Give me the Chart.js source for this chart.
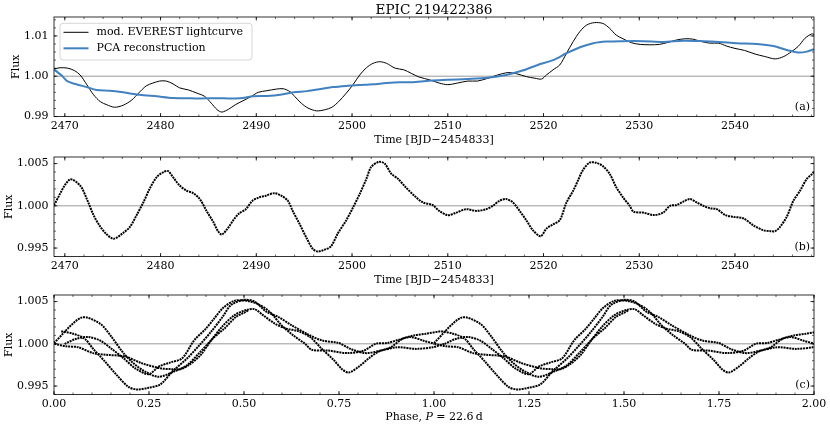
<!DOCTYPE html>
<html>
<head>
<meta charset="utf-8">
<script src="https://cdn.jsdelivr.net/npm/chart.js@4.4.1/dist/chart.umd.min.js"></script>
<style>
html, body { margin: 0; padding: 0; background: #fff; width: 830px; height: 428px; overflow: hidden; }
canvas { position: absolute; left: 0; }
</style>
</head>
<body>
<canvas id="panelA" width="830" height="150" style="top:0px"></canvas>
<canvas id="panelB" width="830" height="150" style="top:139.5px"></canvas>
<canvas id="panelC" width="830" height="150" style="top:278px"></canvas>
<script>
// mod. EVEREST lightcurve (panel a, black)
const timeLc = [2468.87, 2469.5, 2470.3, 2471.0, 2471.6, 2472.3, 2473.0, 2473.7, 2474.4, 2475.2,
    2476.1, 2477.0, 2477.7, 2478.5, 2479.2, 2479.9, 2480.6, 2481.3, 2482.0, 2482.9,
    2483.8, 2484.6, 2485.3, 2485.9, 2486.4, 2487.1, 2487.8, 2488.6, 2489.5, 2490.2,
    2491.1, 2492.1, 2492.8, 2493.5, 2494.0, 2494.7, 2495.4, 2496.3, 2497.2, 2497.9,
    2498.6, 2499.4, 2500.1, 2500.8, 2501.5, 2502.2, 2502.9, 2503.6, 2504.5, 2505.4,
    2506.2, 2507.0, 2508.1, 2509.1, 2510.0, 2511.0, 2512.1, 2513.1, 2514.2, 2515.2,
    2516.3, 2517.2, 2518.2, 2519.1, 2519.8, 2520.3, 2521.0, 2521.7, 2522.4, 2523.1,
    2523.8, 2524.5, 2525.3, 2526.2, 2526.9, 2527.6, 2528.3, 2529.2, 2530.1, 2531.1,
    2532.1, 2533.0, 2533.9, 2534.8, 2535.6, 2536.5, 2537.4, 2538.3, 2539.1, 2540.0,
    2541.0, 2542.1, 2543.1, 2544.2, 2545.1, 2545.9, 2546.6, 2547.3, 2548.0, 2548.25];
const fluxLc = [1.0018, 1.0021, 1.0020, 1.0014, 1.0003, 0.9979, 0.9954, 0.9937, 0.9929, 0.9923,
    0.9928, 0.9941, 0.9958, 0.9976, 0.9983, 0.9988, 0.9988, 0.9981, 0.9971, 0.9966,
    0.9958, 0.9950, 0.9933, 0.9917, 0.9911, 0.9918, 0.9929, 0.9939, 0.9950, 0.9960,
    0.9964, 0.9968, 0.9969, 0.9962, 0.9950, 0.9933, 0.9921, 0.9914, 0.9917, 0.9923,
    0.9937, 0.9958, 0.9979, 1.0003, 1.0021, 1.0032, 1.0036, 1.0032, 1.0020, 1.0016,
    1.0007, 0.9998, 0.9991, 0.9983, 0.9979, 0.9983, 0.9988, 0.9988, 0.9995, 1.0003,
    1.0009, 1.0006, 0.9999, 0.9995, 0.9993, 1.0003, 1.0016, 1.0028, 1.0057, 1.0086,
    1.0111, 1.0127, 1.0133, 1.0131, 1.0119, 1.0102, 1.0093, 1.0083, 1.0079, 1.0078,
    1.0079, 1.0084, 1.0090, 1.0093, 1.0092, 1.0086, 1.0082, 1.0082, 1.0075, 1.0069,
    1.0064, 1.0055, 1.0049, 1.0043, 1.0049, 1.0061, 1.0074, 1.0094, 1.0105, 1.0104];

// PCA reconstruction (panel a, blue)
const timePca = [2468.87, 2469.7, 2470.3, 2471.2, 2472.3, 2473.3, 2474.7, 2476.1, 2477.8, 2479.6,
    2481.3, 2483.1, 2484.8, 2486.6, 2488.3, 2489.7, 2491.1, 2492.5, 2493.9, 2495.3,
    2496.7, 2498.0, 2499.4, 2500.8, 2502.2, 2503.6, 2505.0, 2506.2, 2508.1, 2510.0,
    2512.1, 2514.2, 2516.1, 2517.8, 2519.4, 2521.0, 2522.4, 2523.8, 2525.2, 2526.6,
    2528.3, 2530.4, 2532.5, 2534.6, 2536.7, 2538.4, 2540.2, 2542.3, 2544.0, 2545.4,
    2546.6, 2547.5, 2548.25];
const fluxPca = [1.0017, 1.0001, 0.9987, 0.9980, 0.9973, 0.9966, 0.9964, 0.9960, 0.9954, 0.9950,
    0.9946, 0.9945, 0.9945, 0.9945, 0.9945, 0.9950, 0.9951, 0.9954, 0.9960, 0.9963,
    0.9968, 0.9973, 0.9976, 0.9978, 0.9980, 0.9983, 0.9985, 0.9985, 0.9989, 0.9991,
    0.9993, 0.9996, 1.0003, 1.0014, 1.0028, 1.0040, 1.0057, 1.0072, 1.0082, 1.0086,
    1.0087, 1.0087, 1.0085, 1.0088, 1.0087, 1.0085, 1.0082, 1.0080, 1.0075, 1.0065,
    1.0059, 1.0061, 1.0067];

// corrected lightcurve (panel b, folded in panel c)
const timeDet = [2468.87, 2470.5, 2471.6, 2472.3, 2473.0, 2473.6, 2474.3, 2475.1, 2476.1, 2476.8,
    2477.5, 2478.2, 2478.9, 2479.6, 2480.3, 2480.8, 2481.3, 2482.0, 2482.7, 2483.4,
    2484.1, 2484.8, 2485.5, 2486.0, 2486.4, 2487.0, 2487.6, 2488.2, 2488.9, 2489.6,
    2490.3, 2491.0, 2491.9, 2492.6, 2493.3, 2493.8, 2494.5, 2495.2, 2495.9, 2496.4,
    2497.1, 2497.8, 2498.5, 2499.4, 2500.1, 2500.8, 2501.5, 2502.0, 2502.8, 2503.4,
    2504.1, 2504.8, 2505.6, 2506.6, 2507.4, 2508.4, 2509.1, 2510.0, 2510.9, 2511.9,
    2513.0, 2514.0, 2514.7, 2515.4, 2516.1, 2516.8, 2517.5, 2518.2, 2518.9, 2519.7,
    2520.3, 2521.0, 2521.7, 2522.4, 2523.1, 2523.6, 2524.1, 2524.8, 2525.5, 2526.2,
    2526.9, 2527.6, 2528.3, 2529.0, 2529.4, 2530.4, 2531.5, 2532.5, 2533.2, 2533.9,
    2534.6, 2535.3, 2536.0, 2536.7, 2537.4, 2538.1, 2539.0, 2539.8, 2540.9, 2541.9,
    2543.0, 2543.7, 2544.2, 2544.7, 2545.4, 2546.1, 2546.8, 2547.5, 2548.0, 2548.25];
const fluxDet = [1.0001, 1.0031, 1.0024, 1.0008, 0.9989, 0.9977, 0.9967, 0.9961, 0.9968, 0.9975,
    0.9989, 1.0004, 1.0021, 1.0034, 1.0040, 1.0041, 1.0034, 1.0024, 1.0018, 1.0015,
    1.0008, 0.9994, 0.9981, 0.9970, 0.9966, 0.9973, 0.9983, 0.9991, 0.9996, 1.0006,
    1.0010, 1.0012, 1.0015, 1.0012, 1.0006, 0.9994, 0.9979, 0.9963, 0.9949, 0.9946,
    0.9948, 0.9952, 0.9967, 0.9983, 0.9998, 1.0014, 1.0032, 1.0046, 1.0052, 1.0050,
    1.0038, 1.0032, 1.0022, 1.0011, 1.0004, 1.0001, 0.9994, 0.9989, 0.9992, 0.9996,
    0.9994, 0.9996, 1.0000, 1.0006, 1.0008, 1.0004, 0.9994, 0.9983, 0.9971, 0.9964,
    0.9973, 0.9978, 0.9983, 1.0004, 1.0018, 1.0030, 1.0042, 1.0051, 1.0051, 1.0047,
    1.0038, 1.0022, 1.0010, 1.0000, 0.9993, 0.9992, 0.9989, 0.9992, 1.0000, 1.0001,
    1.0005, 1.0008, 1.0004, 1.0000, 0.9997, 0.9996, 0.9989, 0.9987, 0.9985, 0.9977,
    0.9971, 0.9970, 0.9970, 0.9975, 0.9987, 1.0006, 1.0018, 1.0032, 1.0037, 1.0040];

const period = 22.6;
const timeTicks = [2470, 2480, 2490, 2500, 2510, 2520, 2530, 2540];
const phaseTicks = [0, 0.25, 0.5, 0.75, 1, 1.25, 1.5, 1.75, 2];
const fluxTicksA = [0.99, 1.00, 1.01];
const fluxTicksB = [0.995, 1.000, 1.005];

const SERIF = '"DejaVu Serif", serif';
const pairs = (xs, ys) => xs.map((x, i) => ({x: x, y: ys[i]}));

// phase fold the corrected curve; each cycle runs on to the next cycle's first point, then breaks
function foldCurve(shift) {
    const pts = [];
    let prev = null;
    timeDet.forEach((t, i) => {
        const c = (t - timeDet[0]) / period;
        const n = Math.floor(c);
        if (prev !== null && n !== prev) {
            pts.push({x: c - prev + shift, y: fluxDet[i]});
            pts.push({x: c - prev + shift, y: null});
        }
        pts.push({x: c - n + shift, y: fluxDet[i]});
        prev = n;
    });
    return pts;
}

const frameTicks = {
    id: 'frameTicks',
    beforeDatasetsDraw(chart) {
        const {ctx, chartArea: a, scales: {y}} = chart;
        const y1 = y.getPixelForValue(1);
        ctx.save();
        ctx.strokeStyle = '#808080';
        ctx.lineWidth = 0.8;
        ctx.beginPath();
        ctx.moveTo(a.left, y1);
        ctx.lineTo(a.right, y1);
        ctx.stroke();
        ctx.restore();
    },
    afterDraw(chart, args, o) {
        const {ctx, chartArea: a, scales: {x, y}} = chart;
        ctx.save();
        ctx.strokeStyle = '#000';
        ctx.lineWidth = 0.8;
        ctx.strokeRect(a.left, a.top, a.right - a.left, a.bottom - a.top);

        const ticksOn = (scale, step, len, horiz) => {
            const start = Math.ceil(scale.min / step - 1e-6);
            for (let k = start; k * step <= scale.max + 1e-9; k++) {
                const p = scale.getPixelForValue(k * step);
                ctx.beginPath();
                if (horiz) {
                    ctx.moveTo(p, a.bottom); ctx.lineTo(p, a.bottom - len);
                    ctx.moveTo(p, a.top); ctx.lineTo(p, a.top + len);
                } else {
                    ctx.moveTo(a.left, p); ctx.lineTo(a.left + len, p);
                    ctx.moveTo(a.right, p); ctx.lineTo(a.right - len, p);
                }
                ctx.stroke();
            }
        };
        ctx.lineWidth = 0.6;
        ticksOn(x, o.xMinor, 2, true);
        ticksOn(y, o.yMinor, 2, false);
        ctx.lineWidth = 0.8;
        ticksOn(x, o.xMajor, 3.5, true);
        ticksOn(y, o.yMajor, 3.5, false);

        ctx.fillStyle = '#000';
        ctx.font = '11px ' + SERIF;
        ctx.textAlign = 'right';
        ctx.textBaseline = 'middle';
        ctx.fillText(o.letter, a.right - 4, a.bottom - 9.5);

        const cx = (a.left + a.right) / 2;
        if (o.title) {
            ctx.font = '13.6px ' + SERIF;
            ctx.textAlign = 'center';
            ctx.fillText(o.title, cx, 10);
        }

        if (o.legend) {
            const bx = 60, by = 23.3, bw = 192, bh = 36.7;
            ctx.beginPath();
            ctx.roundRect(bx, by, bw, bh, 3);
            ctx.fillStyle = 'rgba(255,255,255,0.8)';
            ctx.fill();
            ctx.strokeStyle = '#cccccc';
            ctx.lineWidth = 0.8;
            ctx.stroke();
            ctx.font = '11px ' + SERIF;
            ctx.textAlign = 'left';
            chart.data.datasets.forEach((ds, i) => {
                const ly = by + 9 + i * 16;
                ctx.strokeStyle = ds.borderColor;
                ctx.lineWidth = ds.borderWidth;
                ctx.beginPath();
                ctx.moveTo(bx + 3.5, ly);
                ctx.lineTo(bx + 28.5, ly);
                ctx.stroke();
                ctx.fillStyle = '#000';
                ctx.fillText(ds.label, bx + 36.5, ly);
            });
        }

        if (o.phaseTitle) {
            const parts = [['Phase, ', ''], ['P', 'italic '], [' = 22.6\u2009d', '']];
            let w = 0;
            parts.forEach(p => { ctx.font = p[1] + '11px ' + SERIF; w += ctx.measureText(p[0]).width; });
            let px = cx - w / 2;
            ctx.textAlign = 'left';
            ctx.fillStyle = '#000';
            parts.forEach(p => {
                ctx.font = p[1] + '11px ' + SERIF;
                ctx.fillText(p[0], px, a.bottom + 22.7);
                px += ctx.measureText(p[0]).width;
            });
        }
        ctx.restore();
    }
};

function panelOptions(cfg) {
    const font = {family: SERIF, size: 11};
    return {
        responsive: false,
        animation: false,
        events: [],
        layout: {padding: {top: 17, right: 16, bottom: 3.5, left: 0}},
        plugins: {
            legend: {display: false},
            tooltip: {enabled: false},
            frameTicks: cfg.marks
        },
        scales: {
            x: {
                type: 'linear',
                min: cfg.xMin,
                max: cfg.xMax,
                afterBuildTicks: s => { s.ticks = cfg.xTicks.map(v => ({value: v})); },
                afterFit: s => { s.height = 30; },
                grid: {display: false, drawTicks: false},
                border: {display: false},
                ticks: {padding: 3.5, color: '#000', font: font, maxRotation: 0, autoSkip: false,
                    callback: v => v.toFixed(cfg.xDigits)},
                title: {display: !!cfg.xTitle, text: cfg.xTitle || '', color: '#000', font: font, padding: 0}
            },
            y: {
                min: cfg.yMin,
                max: cfg.yMax,
                afterBuildTicks: s => { s.ticks = cfg.yTicks.map(v => ({value: v})); },
                afterFit: s => { s.width = 54; },
                grid: {display: false, drawTicks: false},
                border: {display: false},
                ticks: {padding: 5.5, color: '#000', font: font, autoSkip: false,
                    callback: v => v.toFixed(cfg.yDigits)},
                title: {display: true, text: 'Flux', color: '#000', font: font, padding: {top: cfg.yTitlePad, bottom: 0}}
            }
        }
    };
}

new Chart(document.getElementById('panelA'), {
    type: 'line',
    data: {
        datasets: [
            {label: 'mod. EVEREST lightcurve', data: pairs(timeLc, fluxLc), borderColor: '#000000',
                borderWidth: 1, pointRadius: 0, tension: 0.3, order: 1},
            {label: 'PCA reconstruction', data: pairs(timePca, fluxPca), borderColor: '#4181c0',
                borderWidth: 2, pointRadius: 0, tension: 0.3, order: 0}
        ]
    },
    options: panelOptions({
        xMin: 2468.87, xMax: 2548.25, xTicks: timeTicks, xDigits: 0, xTitle: 'Time [BJD\u22122454833]',
        yMin: 0.99, yMax: 1.0147, yTicks: fluxTicksA, yDigits: 2, yTitlePad: 10,
        marks: {xMajor: 10, xMinor: 2, yMajor: 0.01, yMinor: 0.002, letter: '(a)',
            title: 'EPIC 219422386', legend: true}
    }),
    plugins: [frameTicks]
});

new Chart(document.getElementById('panelB'), {
    type: 'line',
    data: {
        datasets: [
            {label: 'corrected', data: pairs(timeDet, fluxDet), borderColor: '#000000',
                borderWidth: 2, borderDash: [2, 0.8], pointRadius: 0, tension: 0.3}
        ]
    },
    options: panelOptions({
        xMin: 2468.87, xMax: 2548.25, xTicks: timeTicks, xDigits: 0, xTitle: 'Time [BJD\u22122454833]',
        yMin: 0.9940, yMax: 1.00578, yTicks: fluxTicksB, yDigits: 3, yTitlePad: 2.7,
        marks: {xMajor: 10, xMinor: 2, yMajor: 0.005, yMinor: 0.001, letter: '(b)'}
    }),
    plugins: [frameTicks]
});

new Chart(document.getElementById('panelC'), {
    type: 'line',
    data: {
        datasets: [0, 1].map(k => ({
            label: 'folded ' + k, data: foldCurve(k), borderColor: '#000000',
            borderWidth: 2, borderDash: [2, 0.8], pointRadius: 0, tension: 0.3, spanGaps: false
        }))
    },
    options: panelOptions({
        xMin: 0, xMax: 2, xTicks: phaseTicks, xDigits: 2, xTitle: '',
        yMin: 0.9940, yMax: 1.00578, yTicks: fluxTicksB, yDigits: 3, yTitlePad: 2.7,
        marks: {xMajor: 0.25, xMinor: 0.05, yMajor: 0.005, yMinor: 0.001, letter: '(c)', phaseTitle: true}
    }),
    plugins: [frameTicks]
});
</script>
</body>
</html>
